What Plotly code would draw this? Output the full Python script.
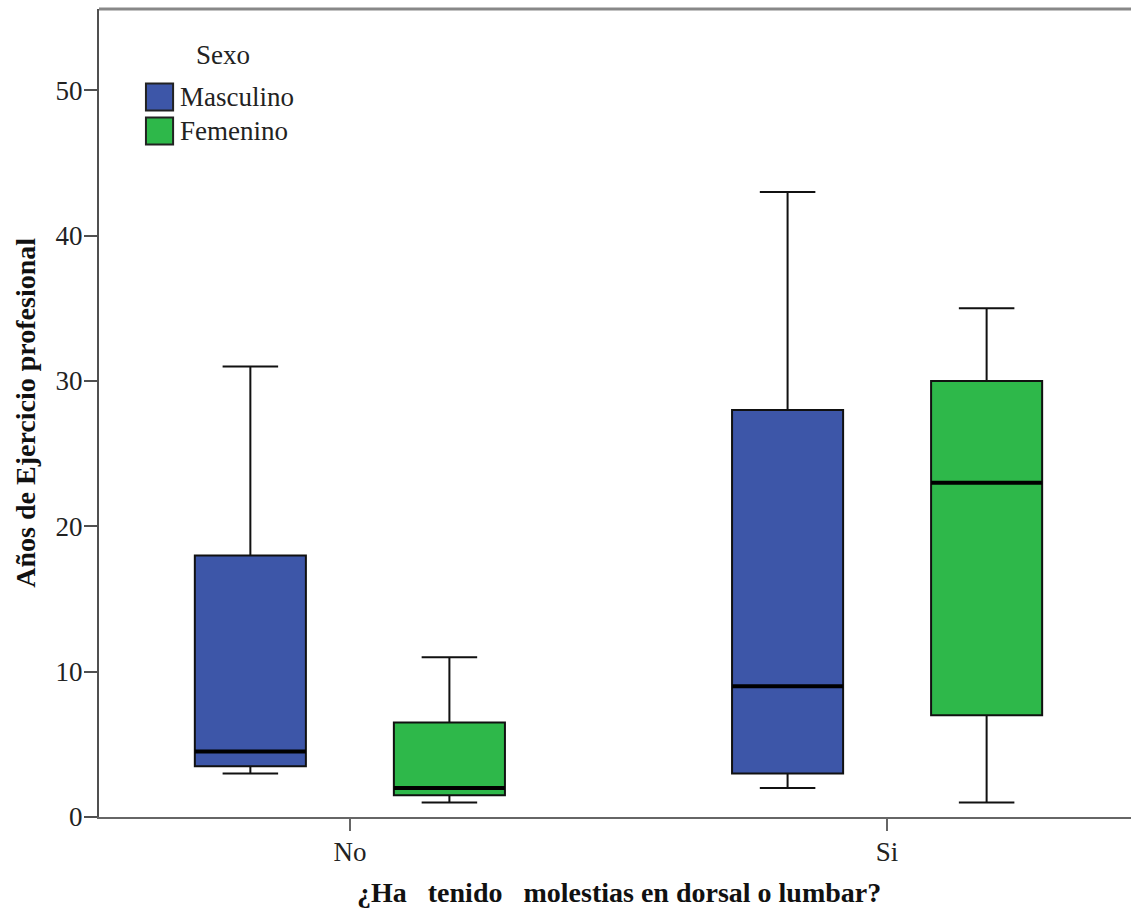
import plotly.graph_objects as go

# Respuesta a la pregunta sobre molestias y sexo
categorias = ["No", "Si"]
sexos = ["Masculino", "Femenino"]
colores = {"Masculino": "#3D56A8", "Femenino": "#2EB84A"}

# Resumen de cinco números de los años de ejercicio profesional
minimo = {"Masculino": [3, 2], "Femenino": [1, 1]}
q1 = {"Masculino": [3.5, 3], "Femenino": [1.5, 7]}
mediana = {"Masculino": [4.5, 9], "Femenino": [2, 23]}
q3 = {"Masculino": [18, 28], "Femenino": [6.5, 30]}
maximo = {"Masculino": [31, 43], "Femenino": [11, 35]}

y_ticks = [0, 10, 20, 30, 40, 50]

SERIF = "Liberation Serif"
TXT = 27

fig = go.Figure()
for s in sexos:
    fig.add_trace(go.Box(
        x=categorias, q1=q1[s], median=mediana[s], q3=q3[s],
        lowerfence=minimo[s], upperfence=maximo[s],
        name=s, offsetgroup=s, fillcolor=colores[s],
        line=dict(color="#111111", width=2), whiskerwidth=0.5,
        boxpoints=False, showlegend=False, hoverinfo="skip",
    ))
# Línea de la mediana más gruesa
for s in sexos:
    fig.add_trace(go.Box(
        x=categorias, q1=mediana[s], median=mediana[s], q3=mediana[s],
        lowerfence=mediana[s], upperfence=mediana[s],
        name=s, offsetgroup=s, fillcolor="rgba(0,0,0,0)",
        line=dict(color="#000000", width=4), whiskerwidth=0,
        boxpoints=False, showlegend=False, hoverinfo="skip",
    ))

fig.update_layout(
    width=1131, height=913,
    margin=dict(l=99, r=0, t=9, b=96),
    paper_bgcolor="white", plot_bgcolor="white",
    boxmode="group", boxgap=0.259, boxgroupgap=0.442,
    font=dict(family=SERIF, size=TXT, color="#222222"),
    xaxis=dict(
        type="category", range=[-0.467, 1.454],
        showline=True, linecolor="#666666", linewidth=2, mirror=False,
        ticks="outside", ticklen=12, tickwidth=2, tickcolor="#666666",
        ticklabelstandoff=-2,
        showgrid=False, zeroline=False,
        tickfont=dict(family=SERIF, size=TXT, color="#222222"),
    ),
    yaxis=dict(
        range=[0, 55.6], tickvals=y_ticks,
        showline=True, linecolor="#505050", linewidth=2,
        ticks="outside", ticklen=13, tickwidth=2, tickcolor="#505050",
        ticklabelstandoff=-4,
        showgrid=False, zeroline=False,
        tickfont=dict(family=SERIF, size=TXT, color="#222222"),
    ),
    showlegend=False,
)

# Borde superior del área de trazado
fig.add_shape(type="line", xref="paper", yref="paper", x0=0, x1=1, y0=1, y1=1,
              line=dict(color="#888888", width=3))

# Títulos de los ejes
fig.add_annotation(text="<b>Años de Ejercicio profesional</b>", xref="paper", yref="paper",
                   x=-0.072, y=0.5, textangle=-90, showarrow=False,
                   xanchor="center", yanchor="middle",
                   font=dict(family=SERIF, size=28, color="#111111"))
fig.add_annotation(text="<b>¿Ha   tenido   molestias en dorsal o lumbar?</b>", xref="paper", yref="paper",
                   x=0.504, y=-0.094, showarrow=False, xanchor="center", yanchor="middle",
                   font=dict(family=SERIF, size=28, color="#111111"))

# Leyenda
fig.add_annotation(text="Sexo", xref="paper", yref="paper", x=0.092, y=0.943,
                   showarrow=False, xanchor="left", yanchor="middle",
                   font=dict(family=SERIF, size=TXT, color="#222222"))
for i, s in enumerate(sexos):
    yc = 0.891 - i * 0.042
    fig.add_shape(type="rect", xref="paper", yref="paper",
                  x0=0.0455, x1=0.0718, y0=yc - 0.0167, y1=yc + 0.0167,
                  fillcolor=colores[s], line=dict(color="#222222", width=2))
    fig.add_annotation(text=s, xref="paper", yref="paper", x=0.0765, y=yc,
                       showarrow=False, xanchor="left", yanchor="middle",
                       font=dict(family=SERIF, size=TXT, color="#222222"))

fig.write_html("out.html")
